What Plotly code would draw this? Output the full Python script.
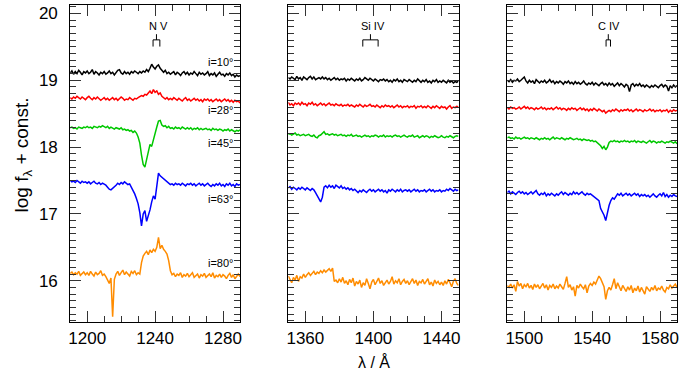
import numpy as np
import plotly.graph_objects as go

# ---------------------------------------------------------------------------
# Spectra (log f_lambda + const.), sampled every 1 Angstrom
# ---------------------------------------------------------------------------
wl_nv = np.arange(1190, 1291, 1.0)
wl_siiv = np.arange(1350, 1451, 1.0)
wl_civ = np.arange(1490, 1591, 1.0)

inclinations = ["i=10°", "i=28°", "i=45°", "i=63°", "i=80°"]
line_colors = ["#000000", "#ff0000", "#00c800", "#0000ff", "#ff8c00"]

# N V region
nv_i10 = [19.11, 19.14, 19.09, 19.13, 19.10, 19.15, 19.12, 19.08, 19.13, 19.11,
          19.14, 19.10, 19.12, 19.16, 19.09, 19.13, 19.11, 19.08, 19.12, 19.10,
          19.13, 19.09, 19.11, 19.14, 19.10, 19.12, 19.08, 19.11, 19.15, 19.16,
          19.11, 19.09, 19.13, 19.10, 19.12, 19.09, 19.13, 19.11, 19.14, 19.12,
          19.10, 19.13, 19.11, 19.14, 19.12, 19.16, 19.13, 19.18, 19.24, 19.20,
          19.17, 19.21, 19.23, 19.18, 19.14, 19.12, 19.15, 19.10, 19.12, 19.09,
          19.11, 19.13, 19.08, 19.12, 19.10, 19.07, 19.11, 19.13, 19.09, 19.12,
          19.08, 19.11, 19.09, 19.13, 19.10, 19.07, 19.12, 19.09, 19.11, 19.08,
          19.10, 19.13, 19.07, 19.10, 19.08, 19.11, 19.06, 19.10, 19.12, 19.08,
          19.09, 19.06, 19.10, 19.08, 19.11, 19.07, 19.09, 19.05, 19.08, 19.06, 19.07]
nv_i28 = [18.74, 18.72, 18.75, 18.73, 18.76, 18.74, 18.72, 18.75, 18.73, 18.71,
          18.74, 18.76, 18.73, 18.71, 18.74, 18.72, 18.75, 18.73, 18.70, 18.72,
          18.74, 18.71, 18.73, 18.70, 18.72, 18.74, 18.71, 18.73, 18.70, 18.72,
          18.75, 18.73, 18.70, 18.72, 18.71, 18.74, 18.72, 18.70, 18.73, 18.72,
          18.74, 18.75, 18.77, 18.76, 18.79, 18.78, 18.81, 18.84, 18.80, 18.86,
          18.82, 18.84, 18.79, 18.81, 18.76, 18.74, 18.72, 18.74, 18.71, 18.73,
          18.71, 18.74, 18.72, 18.70, 18.73, 18.71, 18.69, 18.72, 18.74, 18.70,
          18.72, 18.69, 18.71, 18.73, 18.70, 18.72, 18.69, 18.71, 18.68, 18.72,
          18.70, 18.72, 18.69, 18.71, 18.68, 18.70, 18.72, 18.69, 18.71, 18.68,
          18.70, 18.72, 18.69, 18.71, 18.68, 18.70, 18.67, 18.70, 18.68, 18.69, 18.66]
nv_i45 = [18.29, 18.30, 18.28, 18.29, 18.27, 18.30, 18.29, 18.28, 18.30, 18.29,
          18.31, 18.29, 18.30, 18.28, 18.31, 18.30, 18.29, 18.31, 18.30, 18.32,
          18.30, 18.29, 18.31, 18.28, 18.30, 18.29, 18.27, 18.29, 18.28, 18.27,
          18.29, 18.26, 18.27, 18.25, 18.26, 18.24, 18.25, 18.22, 18.24, 18.21,
          18.15, 18.06, 17.88, 17.74, 17.70, 17.82, 17.96, 18.04, 18.01, 18.12,
          18.22, 18.30, 18.39, 18.40, 18.33, 18.31, 18.32, 18.29, 18.31, 18.28,
          18.29, 18.27, 18.30, 18.28, 18.29, 18.27, 18.30, 18.28, 18.27, 18.29,
          18.27, 18.29, 18.26, 18.28, 18.27, 18.29, 18.26, 18.28, 18.26, 18.27,
          18.28, 18.26, 18.27, 18.25, 18.28, 18.26, 18.27, 18.25, 18.27, 18.26,
          18.24, 18.26, 18.25, 18.27, 18.24, 18.26, 18.25, 18.23, 18.25, 18.24, 18.26]
nv_i63 = [17.50, 17.48, 17.49, 17.47, 17.50, 17.48, 17.46, 17.49, 17.47, 17.48,
          17.46, 17.48, 17.45, 17.47, 17.49, 17.46, 17.45, 17.47, 17.44, 17.46,
          17.45, 17.43, 17.40, 17.37, 17.36, 17.38, 17.41, 17.43, 17.46, 17.44,
          17.47, 17.45, 17.48, 17.46, 17.44, 17.45, 17.40, 17.37, 17.30, 17.23,
          17.15, 17.02, 16.82, 17.00, 17.05, 16.89, 16.96, 17.06, 17.18, 17.27,
          17.22, 17.40, 17.61, 17.57, 17.55, 17.53, 17.51, 17.49, 17.47, 17.44,
          17.45, 17.43, 17.46, 17.44, 17.45, 17.43, 17.46, 17.44, 17.42, 17.45,
          17.44, 17.46, 17.43, 17.45, 17.42, 17.44, 17.46, 17.43, 17.45, 17.42,
          17.44, 17.46, 17.43, 17.41, 17.44, 17.42, 17.45, 17.43, 17.46, 17.42,
          17.44, 17.41, 17.45, 17.43, 17.46, 17.42, 17.44, 17.41, 17.45, 17.43, 17.44]
nv_i80 = [16.11, 16.13, 16.09, 16.12, 16.10, 16.14, 16.08, 16.11, 16.13, 16.09,
          16.12, 16.08, 16.14, 16.10, 16.07, 16.13, 16.09, 16.11, 16.15, 16.08,
          16.10, 16.06, 16.01, 15.96, 16.04, 15.46, 16.02, 16.10, 16.14, 16.08,
          16.12, 16.16, 16.09, 16.13, 16.10, 16.07, 16.14, 16.11, 16.15, 16.09,
          16.12, 16.10, 16.27, 16.37, 16.41, 16.44, 16.39, 16.46, 16.42, 16.47,
          16.44, 16.50, 16.65, 16.48, 16.53, 16.47, 16.44, 16.40, 16.30, 16.15,
          16.09, 16.11, 16.06, 16.10, 16.08, 16.12, 16.05, 16.09, 16.07, 16.11,
          16.06, 16.09, 16.12, 16.05, 16.08, 16.10, 16.04, 16.09, 16.07, 16.11,
          16.05, 16.08, 16.10, 16.06, 16.12, 16.04, 16.08, 16.06, 16.10, 16.05,
          16.09, 16.07, 16.03, 16.08, 16.11, 16.05, 16.09, 16.03, 16.07, 16.10, 16.06]

# Si IV region
siiv_i10 = [19.04, 19.02, 19.05, 19.03, 19.01, 19.06, 19.02, 19.04, 19.00, 19.05,
            19.03, 19.01, 19.04, 19.06, 19.02, 19.05, 19.01, 19.03, 19.04, 19.02,
            19.05, 19.02, 19.04, 19.01, 19.03, 19.00, 19.02, 19.04, 19.01, 19.03,
            19.00, 19.02, 19.01, 19.03, 18.99, 19.02, 19.00, 19.03, 19.01, 18.99,
            19.02, 19.00, 19.03, 18.99, 19.01, 19.04, 19.02, 19.00, 19.03, 19.01,
            18.99, 19.02, 19.00, 18.98, 19.01, 19.00, 19.02, 18.99, 19.01, 18.98,
            19.00, 18.97, 19.01, 18.99, 19.02, 18.98, 19.00, 18.97, 19.01, 18.99,
            18.98, 19.01, 18.99, 18.97, 19.00, 18.98, 19.02, 18.99, 18.97, 19.00,
            18.98, 19.01, 18.97, 18.99, 18.96, 19.00, 18.98, 19.01, 18.97, 18.99,
            18.97, 19.00, 18.98, 18.96, 19.00, 18.97, 18.99, 18.96, 18.98, 18.97, 18.99]
siiv_i28 = [18.67, 18.63, 18.65, 18.62, 18.66, 18.64, 18.66, 18.63, 18.67, 18.64,
            18.65, 18.62, 18.66, 18.64, 18.67, 18.63, 18.65, 18.62, 18.64, 18.66,
            18.63, 18.65, 18.62, 18.64, 18.66, 18.63, 18.64, 18.62, 18.65, 18.63,
            18.62, 18.64, 18.61, 18.63, 18.62, 18.64, 18.61, 18.63, 18.62, 18.60,
            18.63, 18.61, 18.64, 18.62, 18.60, 18.63, 18.61, 18.62, 18.64, 18.61,
            18.62, 18.60, 18.63, 18.61, 18.59, 18.62, 18.60, 18.63, 18.61, 18.62,
            18.60, 18.62, 18.59, 18.61, 18.63, 18.60, 18.62, 18.59, 18.61, 18.60,
            18.62, 18.59, 18.61, 18.60, 18.62, 18.58, 18.61, 18.60, 18.62, 18.59,
            18.61, 18.59, 18.62, 18.60, 18.58, 18.61, 18.59, 18.62, 18.60, 18.58,
            18.61, 18.59, 18.60, 18.57, 18.60, 18.62, 18.58, 18.60, 18.59, 18.61, 18.60]
siiv_i45 = [18.19, 18.20, 18.18, 18.19, 18.21, 18.18, 18.19, 18.17, 18.18, 18.19,
            18.17, 18.18, 18.19, 18.17, 18.16, 18.18, 18.15, 18.14, 18.17, 18.18,
            18.20, 18.23, 18.19, 18.20, 18.18, 18.19, 18.20, 18.18, 18.19, 18.17,
            18.18, 18.19, 18.17, 18.18, 18.16, 18.18, 18.17, 18.19, 18.16, 18.17,
            18.18, 18.16, 18.17, 18.15, 18.17, 18.18, 18.16, 18.17, 18.15, 18.17,
            18.16, 18.18, 18.17, 18.15, 18.17, 18.16, 18.18, 18.15, 18.17, 18.16,
            18.17, 18.15, 18.17, 18.18, 18.16, 18.17, 18.15, 18.16, 18.18, 18.16,
            18.15, 18.17, 18.16, 18.18, 18.15, 18.16, 18.17, 18.14, 18.16, 18.17,
            18.15, 18.17, 18.16, 18.14, 18.16, 18.15, 18.17, 18.16, 18.14, 18.15,
            18.17, 18.15, 18.14, 18.16, 18.15, 18.17, 18.16, 18.14, 18.16, 18.17, 18.16]
siiv_i63 = [17.39, 17.41, 17.37, 17.40, 17.38, 17.36, 17.39, 17.37, 17.40, 17.38,
            17.36, 17.39, 17.37, 17.35, 17.38, 17.36, 17.32, 17.28, 17.22, 17.18,
            17.25, 17.40, 17.42, 17.39, 17.43, 17.40, 17.42, 17.38, 17.43, 17.41,
            17.39, 17.42, 17.38, 17.40, 17.37, 17.39, 17.36, 17.38, 17.35, 17.37,
            17.34, 17.32, 17.35, 17.33, 17.36, 17.34, 17.32, 17.35, 17.37, 17.34,
            17.36, 17.33, 17.35, 17.37, 17.34, 17.36, 17.33, 17.35, 17.31, 17.36,
            17.34, 17.37, 17.35, 17.33, 17.36, 17.34, 17.37, 17.33, 17.35, 17.36,
            17.34, 17.36, 17.33, 17.35, 17.37, 17.34, 17.36, 17.33, 17.35, 17.34,
            17.36, 17.33, 17.35, 17.37, 17.34, 17.36, 17.33, 17.35, 17.34, 17.36,
            17.33, 17.35, 17.34, 17.37, 17.35, 17.38, 17.36, 17.34, 17.37, 17.35, 17.36]
siiv_i80 = [16.07, 16.03, 15.97, 16.05, 16.01, 16.08, 15.99, 16.06, 16.04, 16.10,
            16.05, 16.09, 16.12, 16.08, 16.11, 16.14, 16.09, 16.13, 16.11, 16.15,
            16.12, 16.16, 16.13, 16.15, 16.18, 16.14, 16.19, 15.99, 16.01, 15.97,
            16.03, 15.98, 16.05, 15.96, 16.00, 15.94, 16.02, 15.97, 16.04, 15.92,
            15.99, 15.95, 16.01, 15.90, 15.97, 15.93, 16.03, 15.96, 15.88, 15.98,
            16.02, 15.94, 15.99, 16.04, 15.96, 16.00, 15.93, 15.98, 16.01, 15.95,
            15.99, 16.06, 15.95, 16.00, 15.97, 16.03, 15.94, 15.99, 16.02, 15.96,
            16.00, 15.94, 15.98, 16.03, 15.96, 16.01, 15.93, 15.99, 15.97, 16.02,
            15.95, 15.99, 16.03, 15.94, 15.98, 15.92, 16.01, 15.96, 15.99, 15.94,
            15.98, 15.93, 16.00, 15.95, 16.02, 15.97, 15.91, 15.99, 16.03, 15.96, 15.93]

# C IV region
civ_i10 = [19.00, 18.98, 19.01, 18.97, 19.00, 18.99, 19.02, 18.98, 19.00, 19.03,
           19.05, 18.99, 18.96, 19.00, 18.97, 18.99, 18.95, 19.01, 18.98, 18.96,
           18.99, 18.97, 19.00, 18.96, 18.98, 19.01, 18.97, 18.99, 18.95, 18.98,
           18.96, 18.99, 18.97, 18.94, 18.98, 18.96, 18.99, 18.95, 18.97, 18.94,
           18.98, 18.95, 18.97, 18.94, 18.96, 18.99, 18.95, 18.93, 18.96, 18.94,
           18.97, 18.93, 18.96, 18.94, 18.92, 18.95, 18.97, 18.93, 18.95, 18.92,
           18.96, 18.93, 18.95, 18.91, 18.94, 18.96, 18.92, 18.95, 18.93, 18.90,
           18.94, 18.92, 18.83, 18.93, 18.95, 18.91, 18.94, 18.92, 18.95, 18.91,
           18.93, 18.90, 18.93, 18.91, 18.89, 18.92, 18.90, 18.93, 18.91, 18.89,
           18.92, 18.94, 18.90, 18.93, 18.91, 18.84, 18.92, 18.89, 18.93, 18.90, 18.92]
civ_i28 = [18.59, 18.57, 18.60, 18.58, 18.59, 18.57, 18.58, 18.60, 18.57, 18.59,
           18.61, 18.58, 18.60, 18.57, 18.59, 18.58, 18.56, 18.59, 18.57, 18.58,
           18.60, 18.57, 18.59, 18.56, 18.58, 18.57, 18.59, 18.56, 18.58, 18.60,
           18.57, 18.59, 18.56, 18.58, 18.57, 18.55, 18.58, 18.56, 18.59, 18.57,
           18.58, 18.55, 18.57, 18.59, 18.56, 18.58, 18.55, 18.57, 18.54, 18.57,
           18.55, 18.58, 18.56, 18.54, 18.57, 18.55, 18.53, 18.55, 18.51, 18.53,
           18.55, 18.53, 18.56, 18.54, 18.57, 18.55, 18.53, 18.56, 18.54, 18.56,
           18.55, 18.57, 18.54, 18.56, 18.53, 18.55, 18.57, 18.54, 18.56, 18.55,
           18.53, 18.56, 18.54, 18.55, 18.57, 18.54, 18.56, 18.53, 18.55, 18.54,
           18.56, 18.53, 18.55, 18.54, 18.56, 18.52, 18.55, 18.53, 18.56, 18.54, 18.55]
civ_i45 = [18.14, 18.15, 18.13, 18.14, 18.12, 18.15, 18.13, 18.14, 18.12, 18.13,
           18.15, 18.13, 18.14, 18.12, 18.14, 18.13, 18.12, 18.14, 18.13, 18.11,
           18.13, 18.12, 18.14, 18.12, 18.13, 18.11, 18.13, 18.15, 18.12, 18.14,
           18.13, 18.12, 18.14, 18.13, 18.11, 18.13, 18.12, 18.14, 18.12, 18.11,
           18.12, 18.13, 18.11, 18.12, 18.10, 18.12, 18.11, 18.10, 18.11, 18.09,
           18.10, 18.08, 18.09, 18.07, 18.05, 18.02, 17.98, 18.01, 17.96, 18.00,
           18.07, 18.09, 18.08, 18.10, 18.08, 18.09, 18.07, 18.09, 18.08, 18.10,
           18.08, 18.09, 18.07, 18.09, 18.08, 18.10, 18.07, 18.09, 18.08, 18.07,
           18.09, 18.08, 18.06, 18.08, 18.10, 18.07, 18.09, 18.08, 18.06, 18.08,
           18.07, 18.09, 18.08, 18.06, 18.08, 18.07, 18.09, 18.07, 18.06, 18.08, 18.05]
civ_i63 = [17.32, 17.34, 17.30, 17.33, 17.31, 17.29, 17.32, 17.34, 17.31, 17.33,
           17.30, 17.32, 17.29, 17.31, 17.33, 17.30, 17.32, 17.35, 17.30, 17.28,
           17.31, 17.29, 17.32, 17.27, 17.30, 17.28, 17.31, 17.29, 17.27, 17.30,
           17.28, 17.31, 17.33, 17.29, 17.32, 17.30, 17.28, 17.31, 17.29, 17.33,
           17.30, 17.32, 17.29, 17.31, 17.33, 17.30, 17.28, 17.31, 17.29, 17.30,
           17.28, 17.27, 17.25, 17.23, 17.20, 17.08, 17.03, 16.98, 16.90, 17.02,
           17.13, 17.20, 17.24, 17.22, 17.27, 17.30, 17.28, 17.31, 17.27, 17.29,
           17.31, 17.28, 17.30, 17.27, 17.29, 17.31, 17.28, 17.30, 17.26, 17.29,
           17.27, 17.29, 17.26, 17.28, 17.25, 17.28, 17.30, 17.27, 17.25, 17.28,
           17.30, 17.27, 17.32, 17.26, 17.29, 17.25, 17.28, 17.26, 17.29, 17.27, 17.26]
civ_i80 = [15.93, 15.90, 15.95, 15.89, 15.94, 15.84, 15.99, 15.92, 15.96, 15.88,
           15.94, 15.91, 15.96, 15.89, 15.93, 15.87, 15.95, 15.90, 15.94, 15.88,
           15.92, 15.96, 15.89, 15.94, 15.86, 15.93, 15.90, 15.95, 15.88, 15.92,
           15.89, 15.95, 15.91, 15.87, 15.96, 16.06, 15.90, 15.94, 15.86, 15.91,
           15.77, 15.93, 15.89, 15.95, 15.91, 15.88, 15.94, 15.82, 15.92, 15.96,
           15.93, 15.98, 15.95, 16.01, 16.07, 16.03, 15.97, 15.91, 15.72, 15.85,
           15.90, 15.86, 15.94, 16.03, 15.88, 15.97, 15.91, 15.85, 15.93, 15.88,
           15.84, 15.91, 15.86, 15.93, 15.82, 15.89, 15.85, 15.92, 15.83, 15.90,
           15.86, 15.80, 15.91, 15.87, 15.84, 15.90, 15.86, 15.93, 15.85, 15.89,
           15.87, 15.92, 15.86, 15.83, 15.90, 15.88, 15.94, 15.89, 15.92, 15.95, 15.90]

# Ion labels and doublet rest wavelengths
ion_names = ["N V", "Si IV", "C IV"]
ion_label_x = [1242.0, 1399.7, 1550.1]
doublets = [(1238.8, 1242.8), (1393.76, 1402.77), (1548.2, 1550.8)]

# Label positions of the inclination tags (first panel)
incl_label_y = [19.27, 18.55, 18.06, 17.23, 16.27]

panels = [
    (wl_nv, [nv_i10, nv_i28, nv_i45, nv_i63, nv_i80], (1190, 1290), 1200),
    (wl_siiv, [siiv_i10, siiv_i28, siiv_i45, siiv_i63, siiv_i80], (1350, 1450), 1360),
    (wl_civ, [civ_i10, civ_i28, civ_i45, civ_i63, civ_i80], (1490, 1590), 1500),
]

W, H = 681, 378
x_domains_px = [(68.6, 239.4), (288.0, 459.2), (508.3, 679.0)]
y_domain = [1 - 322 / H, 1 - 4 / H]
y_range = [15.38, 20.127]

FONT = "Liberation Sans, Arial, sans-serif"

fig = go.Figure()
layout = dict(
    width=W, height=H,
    margin=dict(l=0, r=0, t=0, b=0),
    paper_bgcolor="white", plot_bgcolor="white",
    showlegend=False,
    font=dict(family=FONT, color="black"),
)

shapes = []
annotations = []

for k, (wl, series, xr, t0) in enumerate(panels):
    n = "" if k == 0 else str(k + 1)
    xa, ya = "x" + n, "y" + n
    for vals, col in zip(series, line_colors):
        fig.add_trace(go.Scatter(x=wl, y=vals, mode="lines", xaxis=xa, yaxis=ya,
                                 line=dict(color=col, width=1.5)))

    layout["xaxis" + n] = dict(
        domain=[x_domains_px[k][0] / W, x_domains_px[k][1] / W],
        range=list(xr), anchor=ya,
        showline=True, linecolor="black", linewidth=1, mirror="ticks",
        ticks="inside", ticklen=11, tickwidth=1, tickcolor="#333",
        tick0=t0, dtick=40,
        minor=dict(ticks="inside", ticklen=6, tickwidth=1, tickcolor="#333",
                   tick0=t0, dtick=10, showgrid=False),
        showgrid=False, zeroline=False,
        tickfont=dict(size=17, family=FONT),
    )
    layout["yaxis" + n] = dict(
        domain=y_domain, range=y_range, anchor=xa,
        showline=True, linecolor="black", linewidth=1, mirror="ticks",
        ticks="inside", ticklen=11, tickwidth=1, tickcolor="#333",
        tick0=16, dtick=1,
        minor=dict(ticks="inside", ticklen=6, tickwidth=1, tickcolor="#333",
                   tick0=16, dtick=0.1, showgrid=False),
        showgrid=False, zeroline=False,
        showticklabels=(k == 0), ticklabelstandoff=8,
        tickfont=dict(size=17, family=FONT),
    )

    # ion name and doublet marker
    lo, hi = doublets[k]
    mid = 0.5 * (lo + hi)
    stem_top, bar_y, leg_bot = 19.69, 19.605, 19.505
    ln = dict(color="black", width=1)
    shapes += [
        dict(type="line", xref=xa, yref=ya, x0=mid, x1=mid, y0=bar_y, y1=stem_top, line=ln),
        dict(type="line", xref=xa, yref=ya, x0=lo, x1=hi, y0=bar_y, y1=bar_y, line=ln),
        dict(type="line", xref=xa, yref=ya, x0=lo, x1=lo, y0=bar_y, y1=leg_bot, line=ln),
        dict(type="line", xref=xa, yref=ya, x0=hi, x1=hi, y0=bar_y, y1=leg_bot, line=ln),
    ]
    annotations.append(dict(x=ion_label_x[k], y=19.81, xref=xa, yref=ya, text=ion_names[k],
                            showarrow=False, font=dict(size=11, family=FONT),
                            xanchor="center", yanchor="middle"))

# inclination tags
for lab, yv in zip(inclinations, incl_label_y):
    annotations.append(dict(x=1287.5, y=yv, xref="x", yref="y", text=lab, showarrow=False,
                            font=dict(size=11, family=FONT), xanchor="right", yanchor="middle"))

# axis titles
annotations.append(dict(x=21 / W, y=1 - 154 / H, xref="paper", yref="paper",
                        text="log f<sub>λ</sub> + const.", textangle=-90, showarrow=False,
                        font=dict(size=19, family=FONT), xanchor="center", yanchor="middle"))
annotations.append(dict(x=374 / W, y=1 - 362 / H, xref="paper", yref="paper",
                        text="λ / Å", showarrow=False,
                        font=dict(size=16, family=FONT), xanchor="center", yanchor="middle"))

layout["shapes"] = shapes
layout["annotations"] = annotations
fig.update_layout(**layout)
fig.write_html("out.html")
